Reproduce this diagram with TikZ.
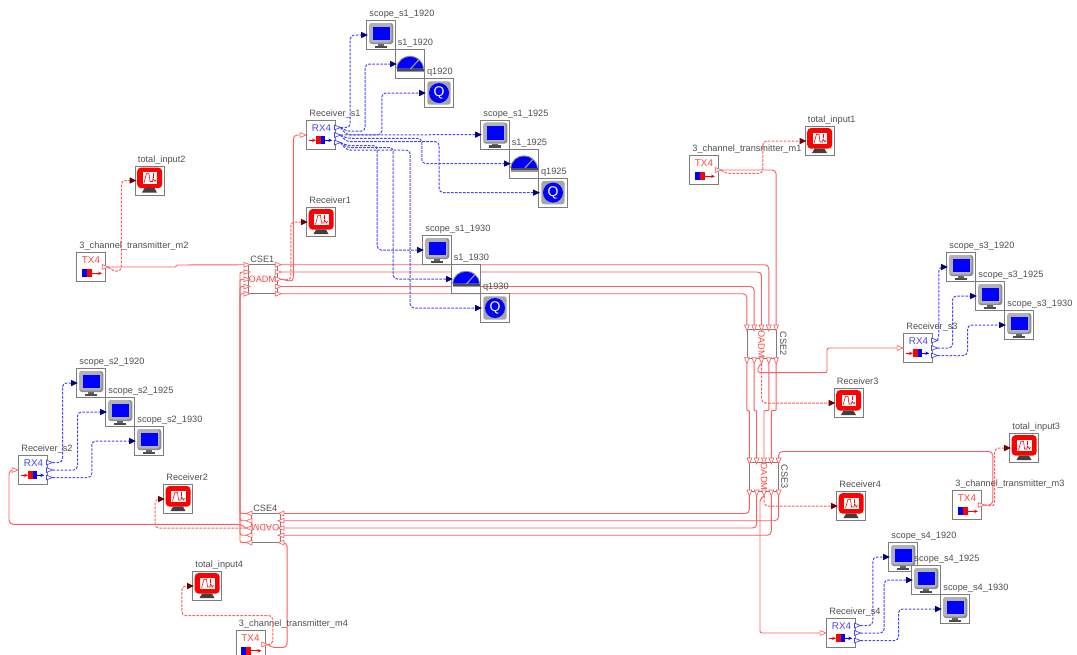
\documentclass[tikz,border=0pt]{standalone}
\usepackage{fontspec}
\setmainfont{Liberation Sans}
\usepackage{xcolor}
\usetikzlibrary{arrows.meta, positioning, backgrounds, calc}
\definecolor{wirered}{RGB}{255, 95, 95}
\definecolor{wireblue}{RGB}{70, 70, 255}
\definecolor{tipred}{RGB}{110, 0, 0}
\definecolor{tipblue}{RGB}{0, 0, 130}
\definecolor{boxgray}{RGB}{125, 125, 125}
\definecolor{labgray}{RGB}{80, 80, 80}
\definecolor{oadmred}{RGB}{255, 70, 70}

\begin{document}
\begin{tikzpicture}[
          x=0.75pt, y=-0.75pt,
          box/.style={draw=boxgray, fill=white, line width=0.6pt, minimum size=21.75pt, inner sep=0pt, outer sep=0pt},
          lab/.style={font=\fontsize{6.9}{8}\selectfont, text=labgray, inner sep=0pt, anchor=base west},
          oadm/.style={font=\fontsize{6.9}{8}\selectfont, text=oadmred, inner sep=0pt},
          redlink/.style={draw=wirered, line width=0.7pt, rounded corners=3pt},
          reddash/.style={draw=wirered, line width=0.75pt, rounded corners=3pt, dash pattern=on 2pt off 1pt,
                      -{Triangle[length=5pt, width=4.5pt, color=tipred]}, shorten >=-1pt},
          bluelink/.style={draw=wireblue, line width=0.75pt, rounded corners=3pt, dash pattern=on 2pt off 1pt,
                      -{Triangle[length=5pt, width=4.5pt, color=tipblue]}, shorten >=-1pt},
          portred/.pic={
            \draw[draw=wirered, fill=white, line width=0.5pt] (0,-2.4) -- (6,0) -- (0,2.4) -- cycle;
            \coordinate (-tip) at (6,0);
            \coordinate (-base) at (0,0);
          },
          portblue/.pic={
            \draw[draw=wireblue, fill=white, line width=0.5pt] (0,-2.4) -- (6,0) -- (0,2.4) -- cycle;
            \coordinate (-tip) at (6,0);
          },
          monitor/.pic={
            \fill[black!45, rounded corners=2pt] (-11.7,-12) rectangle (12.3,9);
            \fill[black!30, rounded corners=2pt] (-11.7,-12) rectangle (10.5,7.5);
            \fill[blue] (-8.3,-8.5) rectangle (9,5);
            \fill[black!60] (-3,9) rectangle (3,10.5);
            \fill[black!70] (-6.3,10.5) rectangle (6.3,13);
          },
          redscope/.pic={
            \fill[red, rounded corners=3pt] (-12.3,-13) rectangle (12.7,7.7);
            \fill[white] (-7,-8.3) rectangle (7.7,3.3);
            \draw[red, line width=0.45pt] (-5.5,2.2) -- (-3,-6.8) -- (-0.5,-6.8) -- (0.5,1) -- (3,1) -- (3.5,-2) -- (5.5,1) -- (6.5,-1);
            \draw[red, line width=0.45pt] (3.5,-7.5) -- (3.5,-3);
            \fill[black!75] (-5,7.7) -- (5,7.7) -- (7.5,12) -- (-7.5,12) -- cycle;
          },
          meter/.pic={
            \fill[black!45] (-13.8,4.5) .. controls (-12,-12.5) and (12,-12.5) .. (14,4.5) -- cycle;
            \fill[blue] (-12.8,4.5) .. controls (-11,-11) and (11,-11) .. (13,4.5) -- cycle;
            \draw[black!35, line width=0.8pt] (0.5,5) -- (9,-4.5);
            \fill[black!70] (-13.5,4.5) rectangle (13.5,6.5);
            \fill[black!40] (-13.5,6.5) rectangle (13.5,8);
          },
          qmeter/.pic={
            \fill[black!35, rounded corners=2pt] (-11.7,-11.7) rectangle (11.7,11.7);
            \fill[blue] (0,0) circle (10);
            \node[text=white, inner sep=0pt, font=\fontsize{10.5}{11}\selectfont] (-q) at (0,0) {Q};
          },
          txicon/.pic={
            \node[inner sep=0pt, text=oadmred, font=\fontsize{7.4}{8}\selectfont] (-txt) at (0,-6.7) {TX4};
            \fill[blue] (-9.3,2.3) rectangle (-4.3,10.3);
            \fill[red] (-4.3,2.3) rectangle (0.7,10.3);
            \draw[red, line width=0.5pt, -{Stealth[length=3pt, width=2.5pt]}] (0.7,6.3) -- (11,6.3);
          },
          rxicon/.pic={
            \node[inner sep=0pt, text=wireblue, font=\fontsize{7.4}{8}\selectfont] (-txt) at (0.5,-7) {RX4};
            \draw[red, line width=0.5pt, -{Stealth[length=3pt, width=2.5pt]}] (-11.7,5.3) -- (-5,5.3);
            \fill[red] (-5,1.3) rectangle (-0.3,9.3);
            \fill[blue] (-0.3,1.3) rectangle (4,9.3);
            \draw[blue, line width=0.5pt, -{Stealth[length=3pt, width=2.5pt]}] (4,5.3) -- (11.3,5.3);
          },
        ]
        \useasboundingbox (0,0) rectangle (1077,654);
        \node[box] (sca1) at (381,35) {};
        \node[box, below right=0pt of sca1] (mta1) {};
        \node[box, below right=0pt of mta1] (qa1) {};
        \node[box] (sca2) at (495,134.6) {};
        \node[box, below right=0pt of sca2] (mta2) {};
        \node[box, below right=0pt of mta2] (qa2) {};
        \node[box] (sca3) at (437,250) {};
        \node[box, below right=0pt of sca3] (mta3) {};
        \node[box, below right=0pt of mta3] (qa3) {};
        \node[box] (scb1) at (91,383) {};
        \node[box, below right=0pt of scb1] (scb2) {};
        \node[box, below right=0pt of scb2] (scb3) {};
        \node[box] (scc1) at (961,267) {};
        \node[box, below right=0pt of scc1] (scc2) {};
        \node[box, below right=0pt of scc2] (scc3) {};
        \node[box] (scd1) at (903,557) {};
        \node[box] (scd2) at (926,580) {};
        \node[box, below right=0pt of scd2] (scd3) {};
        \node[box] (rxa) at (321,135) {};
        \node[box] (rxb) at (33,470) {};
        \node[box] (rxc) at (918,348) {};
        \node[box] (rxd) at (841,633) {};
        \node[box] (txa) at (704,170) {};
        \node[box] (txb) at (91,267) {};
        \node[box] (txc) at (967,505) {};
        \node[box] (txd) at (250.5,644.5) {};
        \node[box] (tota) at (819.5,141) {};
        \node[box] (totb) at (149.5,180.5) {};
        \node[box] (totc) at (1024,448) {};
        \node[box] (totd) at (207,586) {};
        \node[box] (reca) at (321,222) {};
        \node[box] (recb) at (178,499) {};
        \node[box] (recc) at (848.5,403) {};
        \node[box] (recd) at (851,506) {};
        \node[box] (csea) at (262.5,279.25) {};
        \node[box] (cseb) at (761.5,344) {};
        \node[box] (csec) at (764,476.5) {};
        \node[box] (csed) at (265.5,528) {};
        \node[oadm] (csea-txt) at (csea) {OADM};
        \node[oadm, rotate=-90] (cseb-txt) at (cseb) {OADM};
        \node[oadm, rotate=-90] (csec-txt) at (csec) {OADM};
        \node[oadm, rotate=180] (csed-txt) at (csed) {OADM};
        \node[lab] (csea-lab) at ([shift={(2,-2)}]csea.north west) {CSE1};
        \node[lab] (csed-lab) at ([shift={(2,-2)}]csed.north west) {CSE4};
        \node[lab, anchor=center, rotate=-90] (cseb-lab) at ([xshift=5.5]cseb.east) {CSE2};
        \node[lab, anchor=center, rotate=-90] (csec-lab) at ([xshift=4.5]csec.east) {CSE3};
        \foreach \nm/\txt in {sca1/scope\_s1\_1920, sca2/scope\_s1\_1925, sca3/scope\_s1\_1930,
                              scb1/scope\_s2\_1920, scb2/scope\_s2\_1925, scb3/scope\_s2\_1930,
                              scc1/scope\_s3\_1920, scc2/scope\_s3\_1925, scc3/scope\_s3\_1930,
                              scd1/scope\_s4\_1920, scd2/scope\_s4\_1925, scd3/scope\_s4\_1930}{
          \pic (\nm-ico) at (\nm) {monitor};
          \node[lab] (\nm-lab) at ([shift={(2.7,-3.7)}]\nm.north west) {\txt};
        }
        \foreach \nm/\txt in {mta1/s1\_1920, mta2/s1\_1925, mta3/s1\_1930}{
          \pic (\nm-ico) at (\nm) {meter};
          \node[lab] (\nm-lab) at ([shift={(2,-3.7)}]\nm.north west) {\txt};
        }
        \foreach \nm/\txt in {qa1/q1920, qa2/q1925, qa3/q1930}{
          \pic (\nm-ico) at (\nm) {qmeter};
          \node[lab] (\nm-lab) at ([shift={(2.3,-3.7)}]\nm.north west) {\txt};
        }
        \foreach \nm/\txt in {tota/total\_input1, totb/total\_input2, totc/total\_input3, totd/total\_input4,
                              reca/Receiver1, recb/Receiver2, recc/Receiver3, recd/Receiver4}{
          \pic (\nm-ico) at (\nm) {redscope};
          \node[lab] (\nm-lab) at ([shift={(2.7,-3.7)}]\nm.north west) {\txt};
        }
        \foreach \nm/\txt in {txa/3\_channel\_transmitter\_m1, txb/3\_channel\_transmitter\_m2,
                              txc/3\_channel\_transmitter\_m3, txd/3\_channel\_transmitter\_m4}{
          \pic (\nm-ico) at (\nm) {txicon};
          \pic (\nm-out) at ([xshift=-2.4]\nm.east) {portred};
          \node[lab] (\nm-lab) at ([shift={(2.7,-3.7)}]\nm.north west) {\txt};
        }
        \foreach \nm/\txt in {rxa/Receiver\_s1, rxb/Receiver\_s2, rxc/Receiver\_s3, rxd/Receiver\_s4}{
          \pic (\nm-ico) at (\nm) {rxicon};
          \pic (\nm-in) at ([xshift=-4.8]\nm.west) {portred};
          \pic (\nm-A) at ([shift={(-1,-7.5)}]\nm.east) {portblue};
          \pic (\nm-B) at ([shift={(-1,0)}]\nm.east) {portblue};
          \pic (\nm-C) at ([shift={(-1,7.5)}]\nm.east) {portblue};
          \node[lab] (\nm-lab) at ([shift={(2.7,-3.7)}]\nm.north west) {\txt};
        }
        \foreach \i/\d in {1/-14.5, 2/-7.25, 3/0, 4/7.25, 5/14.5}{
          \pic (cseaL\i) at ([shift={(-4,\d)}]csea.west) {portred};
          \pic (cseaR\i) at ([shift={(-1.7,\d)}]csea.east) {portred};
          \pic[rotate=180] (csedL\i) at ([shift={(1,\d)}]csed.west) {portred};
          \pic[rotate=180] (csedR\i) at ([shift={(4,\d)}]csed.east) {portred};
        }
        \foreach \i/\d in {1/-14.6, 2/-7.3, 3/0, 4/7.3, 5/14.6}{
          \pic[rotate=-90] (csebT\i) at ([shift={(\d,-4.5)}]cseb.north) {portred};
          \pic[rotate=-90] (csebB\i) at ([shift={(\d,-0.8)}]cseb.south) {portred};
          \pic[rotate=-90] (csecT\i) at ([shift={(\d,-4)}]csec.north) {portred};
          \pic[rotate=-90] (csecB\i) at ([shift={(\d,-1)}]csec.south) {portred};
        }
        \begin{scope}[on background layer]
          \fill[white] (0,0) rectangle (1077,654);
          \draw[redlink, sharp corners] (txb-out-tip) -- ++(67,0) -- ++(2,-2) -- (cseaL1-base);
          \foreach \i/\j in {2/1, 3/2, 4/4, 5/5}{
            \draw[redlink, rounded corners=1.5pt] (cseaL\i-base) -- ++(-4,0) |- (csedL\j-tip);
          }
          \foreach \i/\j in {1/4, 2/3, 4/2, 5/1}{
            \draw[redlink] (cseaR\i-tip) -| (csebT\j-base);
          }
          \draw[redlink] (txa-out-tip) -| (csebT5-base);
          \foreach \i/\j in {1/1, 2/2, 4/3, 5/4}{
            \draw[redlink, rounded corners=0.6pt] (csebB\i-tip) -- ++(0,47) -| (csecT\j-base);
          }
          \draw[redlink] (txc-out-tip) -- ++(8.5,0) -- ++(0,-53.5) -| (csecT5-base);
          \foreach \i/\j in {1/1, 5/2, 2/3, 4/4}{
            \draw[redlink] (csecB\i-tip) |- (csedR\j-base);
          }
          \draw[redlink] (txd-out-tip) -- ++(3,3) -- ++(16.3,0) |- (csedR5-base);
          \draw[redlink] (cseaR3-tip) -- ++(12,2.5) |- (rxa-in-base);
          \draw[redlink] (csedL3-tip) -- ++(-5,-3.7) -- ++(-232,0) |- (rxb-in-base);
          \draw[redlink, rounded corners=1.5pt] (csebB3-tip) -- ++(-3.5,3) -- ++(0,6) -- ++(69,0) |- (rxc-in-base);
          \draw[redlink, rounded corners=1.5pt] (csecB3-tip) -- ++(-4,3) |- (rxd-in-base);
        \end{scope}
        \draw[reddash] (txa-out-tip) -- ++(4,3.4) -- ++(37.5,0) |- (tota.west);
        \draw[reddash] (txb-out-tip) -- ++(4,4) -- ++(9,0) |- (totb.west);
        \draw[reddash] (txc-out-tip) -- ++(10.3,1.5) |- (totc.west);
        \draw[reddash] (txd-out-tip) -- ++(5,0) -- ++(0,-29) -- ++(-91,0) |- (totd.west);
        \draw[reddash] (cseaR3-tip) -- ++(9.5,1) |- (reca.west);
        \draw[reddash] (csedL3-tip) -- ++(-91,0) |- (recb.west);
        \draw[reddash] (csebB3-tip) |- (recc.west);
        \draw[reddash] (csecB3-tip) |- (recd.west);
        \draw[bluelink] (rxa-A-tip) -- ++(9.7,0) |- (sca1.west);
        \draw[bluelink] (rxa-A-tip) -- ++(6,3.7) -- ++(18.7,0) |- (mta1.west);
        \draw[bluelink] (rxa-A-tip) -- ++(6,7.3) -- ++(35.3,0) |- (qa1.west);
        \draw[bluelink] (rxa-B-tip) -- (sca2.west);
        \draw[bluelink] (rxa-B-tip) -- ++(6,3.3) -- ++(75.3,0) |- (mta2.west);
        \draw[bluelink] (rxa-B-tip) -- ++(6,6.7) -- ++(92.7,0) |- (qa2.west);
        \draw[bluelink] (rxa-C-tip) -- ++(6,3) -- ++(30.7,0) |- (sca3.west);
        \draw[bluelink] (rxa-C-tip) -- ++(6,5) -- ++(46.7,0) |- (mta3.west);
        \draw[bluelink] (rxa-C-tip) -- ++(6,7.5) -- ++(63.7,0) |- (qa3.west);
        \draw[bluelink] (rxc-A-tip) -- ++(1.3,-4) |- (scc1.west);
        \foreach \p/\d/\t in {rxb-A/10/scb1, rxb-B/25/scb2, rxb-C/39.3/scb3,
                              rxc-B/15/scc2, rxc-C/30/scc3,
                              rxd-A/12.3/scd1, rxd-B/23.7/scd2, rxd-C/38/scd3}{
          \draw[bluelink] (\p-tip) -- ++(\d,0) |- (\t.west);
        }
      \end{tikzpicture}
\end{document}
